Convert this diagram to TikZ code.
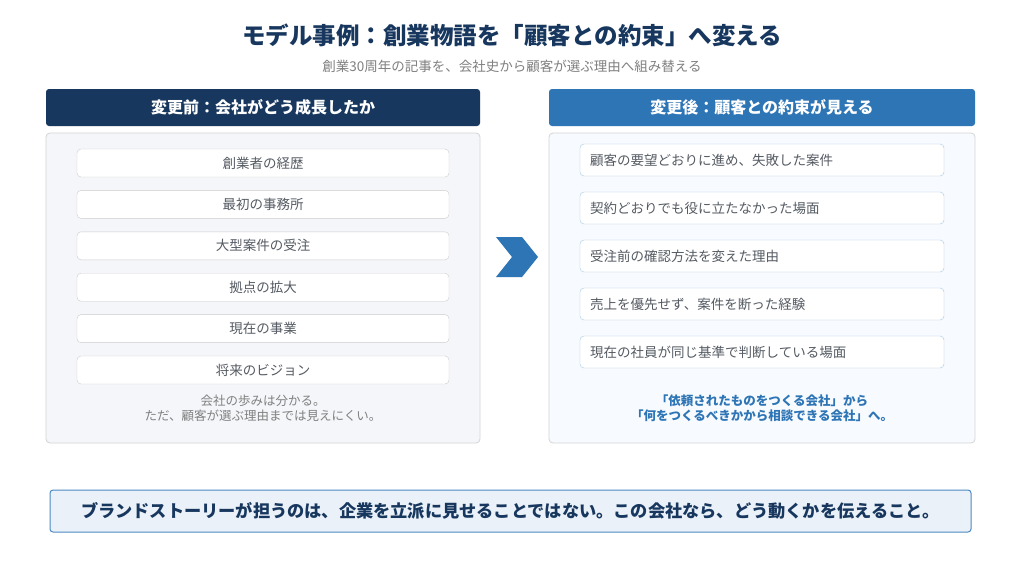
\documentclass[tikz,border=0pt]{standalone}
\usepackage{fontspec}
\setmainfont{Noto Sans CJK JP}
\begin{document}
\definecolor{navy}{HTML}{17375E}
\definecolor{blu}{HTML}{2E75B6}
\definecolor{gry}{HTML}{555B63}
\definecolor{lpan}{HTML}{F4F6F9}
\definecolor{rpan}{HTML}{F7FAFE}
\begin{tikzpicture}[x=1pt,y=-1pt,
  hdr/.style={rounded corners=3pt,minimum height=37pt,text=white,font=\bfseries\fontsize{16}{18}\selectfont,inner sep=0},
  panel/.style={rounded corners=4pt,draw=black!17,line width=0.8pt},
  litem/.style={draw=black!20,fill=white,rounded corners=4pt,minimum width=372pt,minimum height=28pt,text=gry,font=\fontsize{13.5}{15}\selectfont,inner sep=0},
  ritem/.style={draw=blu!40,fill=white,rounded corners=4pt,minimum width=364pt,minimum height=32pt,inner sep=0}]
\useasboundingbox (0,0) rectangle (1024,576);
\fill[white] (0,0) rectangle (1024,576);
\node[font=\bfseries\fontsize{23.5}{26}\selectfont,text=navy] (title) at (512,35) {モデル事例：創業物語を「顧客との約束」へ変える};
\node[font=\fontsize{13.5}{15}\selectfont,text=black!50] (sub) at (512,66) {創業30周年の記事を、会社史から顧客が選ぶ理由へ組み替える};
\node[hdr,fill=navy,minimum width=434pt] (lh) at (263,107.5) {変更前：会社がどう成長したか};
\node[hdr,fill=blu,minimum width=426pt] (rh) at (762,107.5) {変更後：顧客との約束が見える};
\draw[panel,fill=lpan] (46,133) rectangle (480,443);
\draw[panel,fill=rpan] (549,133) rectangle (975,443);
\foreach \t [count=\i] in {創業者の経歴,最初の事務所,大型案件の受注,拠点の拡大,現在の事業,将来のビジョン}
  \node[litem] (l\i) at (263,{163+(\i-1)*41.4}) {\t};
\node[align=center,text=black!50,font=\fontsize{12.5}{15.5}\selectfont] (lnote) at (263,408.5) {会社の歩みは分かる。\\ただ、顧客が選ぶ理由までは見えにくい。};
\foreach \t [count=\i] in {顧客の要望どおりに進め、失敗した案件,契約どおりでも役に立たなかった場面,受注前の確認方法を変えた理由,売上を優先せず、案件を断った経験,現在の社員が同じ基準で判断している場面}
  \node[ritem] (r\i) at (762,{160+(\i-1)*48}) {};
\foreach \t [count=\i] in {顧客の要望どおりに進め、失敗した案件,契約どおりでも役に立たなかった場面,受注前の確認方法を変えた理由,売上を優先せず、案件を断った経験,現在の社員が同じ基準で判断している場面}
  \node[anchor=west,text=gry,font=\fontsize{13.5}{15}\selectfont,inner sep=0] (rt\i) at (590,{160+(\i-1)*48}) {\t};
\node[align=center,text=blu,font=\bfseries\fontsize{12.5}{15.5}\selectfont] (rnote) at (762,408.5) {「依頼されたものをつくる会社」から\\「何をつくるべきかから相談できる会社」へ。};
\fill[blu] (496,237) -- (522,237) -- (538,257) -- (522,277) -- (496,277) -- (512,257) -- cycle;
\node[draw=blu!85,fill=blu!10,line width=1pt,rounded corners=3pt,minimum width=921pt,minimum height=42pt,text=navy,font=\bfseries\fontsize{17.2}{19}\selectfont] (bot) at (510.5,511) {ブランドストーリーが担うのは、企業を立派に見せることではない。この会社なら、どう動くかを伝えること。};
\end{tikzpicture}
\end{document}
